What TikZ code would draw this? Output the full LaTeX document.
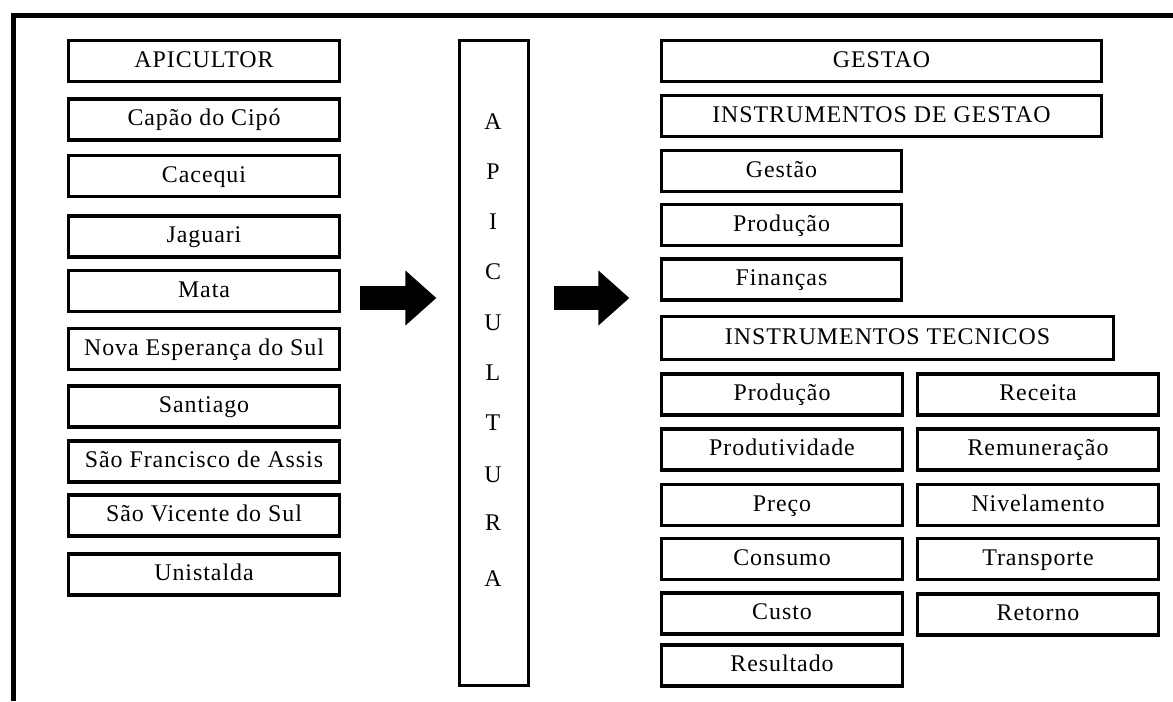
\documentclass[tikz,border=0pt]{standalone}
\usepackage{fontspec}
\setmainfont{Liberation Serif}[LetterSpace=4]
\usetikzlibrary{arrows.meta, positioning, calc}

\begin{document}
\begin{tikzpicture}[x=1cm, y=1cm, font=\fontsize{6.8}{8}\selectfont,
        caixa/.style={draw, line width=0.9pt, minimum height=0.41cm, inner sep=0pt,
            text height=0.155cm, text depth=0.035cm, align=center},
        esq/.style={caixa, minimum width=2.71cm},
        larga/.style={caixa, minimum width=4.40cm},
        media/.style={caixa, minimum width=2.41cm},
        seta/.style={line width=0.245cm, -{Triangle[length=0.31cm, width=0.53cm]}}]
    \useasboundingbox (0,0) rectangle (11.73,-7.01);
    \draw[line width=1.2pt] (0.135,-7.01) -- (0.135,-0.155) -- (11.73,-0.155);
    % municipios
    \foreach \nome/\y [count=\i] in {APICULTOR/0.61, Capão do Cipó/1.195, Cacequi/1.76,
            Jaguari/2.365, Mata/2.91, Nova Esperança do Sul/3.49, Santiago/4.065,
            São Francisco de Assis/4.615, São Vicente do Sul/5.155, Unistalda/5.745}
        \node[esq] (m\i) at (2.04,-\y) {\nome};
    % apicultura
    \node[draw, line width=0.9pt, minimum width=0.69cm, minimum height=6.45cm] (apic) at (4.94,-3.63) {};
    \foreach \letra/\y [count=\i] in {A/1.22, P/1.72, I/2.22, C/2.72, U/3.23,
            L/3.73, T/4.23, U/4.75, R/5.23, A/5.79}
        \node (letra\i) at (4.93,-\y) {\letra};
    % gestao
    \node[larga] (gestao) at (8.815,-0.61) {GESTAO};
    \node[larga] (instgestao) at (8.815,-1.16) {INSTRUMENTOS DE GESTAO};
    \node[media, minimum width=2.40cm] (gestaosub) at (7.815,-1.71) {Gestão};
    \node[media, minimum width=2.40cm] (producao) at (7.815,-2.25) {Produção};
    \node[media, minimum width=2.40cm] (financas) at (7.815,-2.795) {Finanças};
    \node[caixa, minimum width=4.52cm, minimum height=0.43cm] (insttec) at (8.875,-3.38) {INSTRUMENTOS TECNICOS};
    % instrumentos tecnicos
    \foreach \nome/\y [count=\i] in {Produção/3.945, Produtividade/4.495, Preço/5.05,
            Consumo/5.59, Custo/6.135, Resultado/6.655}
        \node[media] (ta\i) at (7.82,-\y) {\nome};
    \foreach \nome/\y [count=\i] in {Receita/3.945, Remuneração/4.495, Nivelamento/5.05,
            Transporte/5.59, Retorno/6.145}
        \node[media] (tb\i) at (10.38,-\y) {\nome};
    % setas
    \coordinate (nivel) at (0,-2.98);
    \draw[seta, shorten <=0.185cm, shorten >=0.215cm] (m5.east |- nivel) -- (apic.west |- nivel);
    \draw[seta, shorten <=0.235cm, shorten >=0.305cm] (apic.east |- nivel) -- (financas.west |- nivel);
\end{tikzpicture}
\end{document}
